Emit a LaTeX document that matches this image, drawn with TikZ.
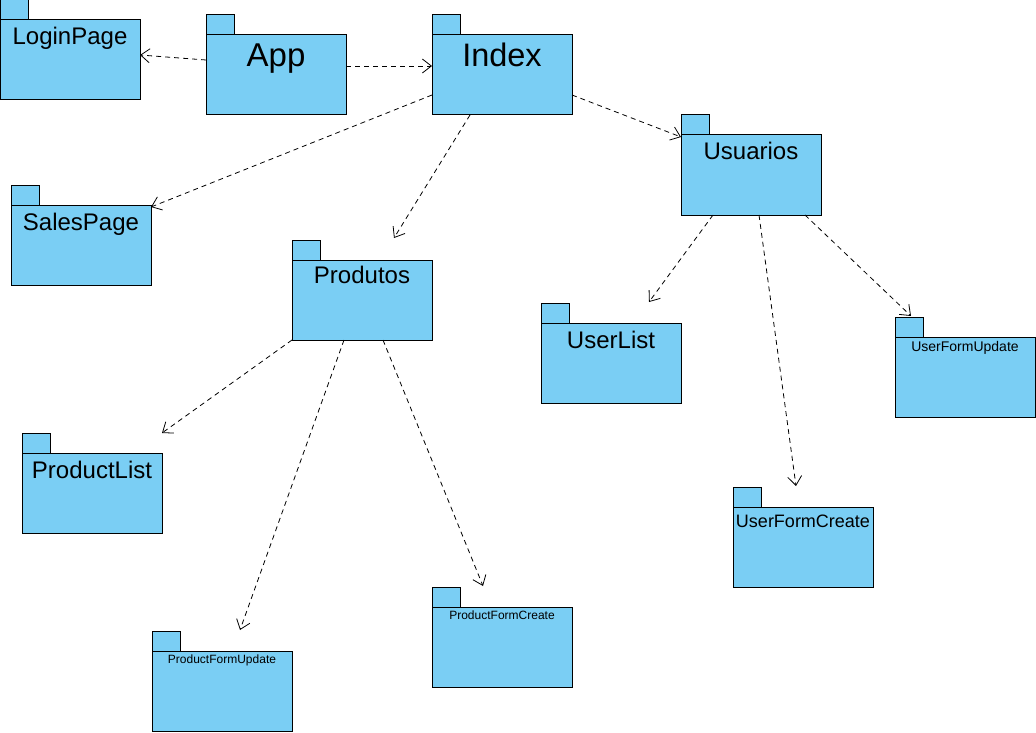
\documentclass[tikz,border=0pt]{standalone}
\usepackage{fontspec}
\setmainfont{Liberation Sans}
\usetikzlibrary{arrows.meta,calc}
\definecolor{pkgblue}{RGB}{122,206,244}
\tikzset{
  pkg/.style={draw=black, fill=pkgblue, line width=1pt, minimum width=140pt, minimum height=80pt, anchor=north west, inner sep=0pt, outer sep=0pt},
  pkgtab/.style={draw=black, fill=pkgblue, line width=1pt},
  dep/.style={draw=black, line width=0.8pt, dash pattern=on 5pt off 4pt, -{Straight Barb[length=9pt,width=14pt,line width=0.8pt]}},
}
\newcommand\pkgbox[6]{%
  \draw[pkgtab] (#2,#3-20) rectangle (#2+28,#3);
  \node[pkg] (#1) at (#2,#3) {};
  \node[font=\fontsize{#4}{#4}\selectfont, inner sep=0pt, anchor=base] (#1-label) at ($(#1.north)+(0,#6)$) {#5};
}
\begin{document}
\begin{tikzpicture}[x=1pt,y=-1pt]
\useasboundingbox (0,0) rectangle (1036,733);
\pkgbox{login}{0}{20}{24}{LoginPage}{25}
\pkgbox{app}{206}{35}{33}{App}{32}
\pkgbox{index}{432}{35}{32.5}{Index}{32}
\pkgbox{usu}{681}{135}{24}{Usuarios}{25}
\pkgbox{sales}{11}{205}{24}{SalesPage}{25}
\pkgbox{prod}{292}{260}{24}{Produtos}{23}
\pkgbox{ul}{541}{323}{24}{UserList}{25}
\pkgbox{ufu}{895}{337}{14}{UserFormUpdate}{14}
\pkgbox{pl}{22}{453}{24}{ProductList}{25}
\pkgbox{ufc}{733}{507}{18}{UserFormCreate}{20}
\pkgbox{pfc}{432}{607}{12}{ProductFormCreate}{12}
\pkgbox{pfu}{152}{651}{12}{ProductFormUpdate}{12}

\draw[dep] ($(app.north west)+(0,25)$) -- ($(login.north west)+(140,35)$);
\draw[dep] ($(app.north west)+(140,31)$) -- ($(index.north west)+(0,31)$);
\draw[dep] ($(index.north west)+(0,60)$) -- ($(sales.north west)+(140,2)$);
\draw[dep] ($(index.north west)+(38,80)$) -- ($(prod.north west)+(102,-22)$);
\draw[dep] ($(index.north west)+(140,60)$) -- ($(usu.north west)+(0,2)$);
\draw[dep] ($(usu.north west)+(32,80)$) -- ($(ul.north west)+(108,-21)$);
\draw[dep] ($(usu.north west)+(78,80)$) -- ($(ufc.north west)+(63,-21)$);
\draw[dep] ($(usu.north west)+(124,80)$) -- ($(ufu.north west)+(16,-21)$);
\draw[dep] ($(prod.north west)+(0,80)$) -- ($(pl.north west)+(140,-20)$);
\draw[dep] ($(prod.north west)+(52,80)$) -- ($(pfu.north west)+(88,-21)$);
\draw[dep] ($(prod.north west)+(91,80)$) -- ($(pfc.north west)+(51,-21)$);
\end{tikzpicture}
\end{document}
